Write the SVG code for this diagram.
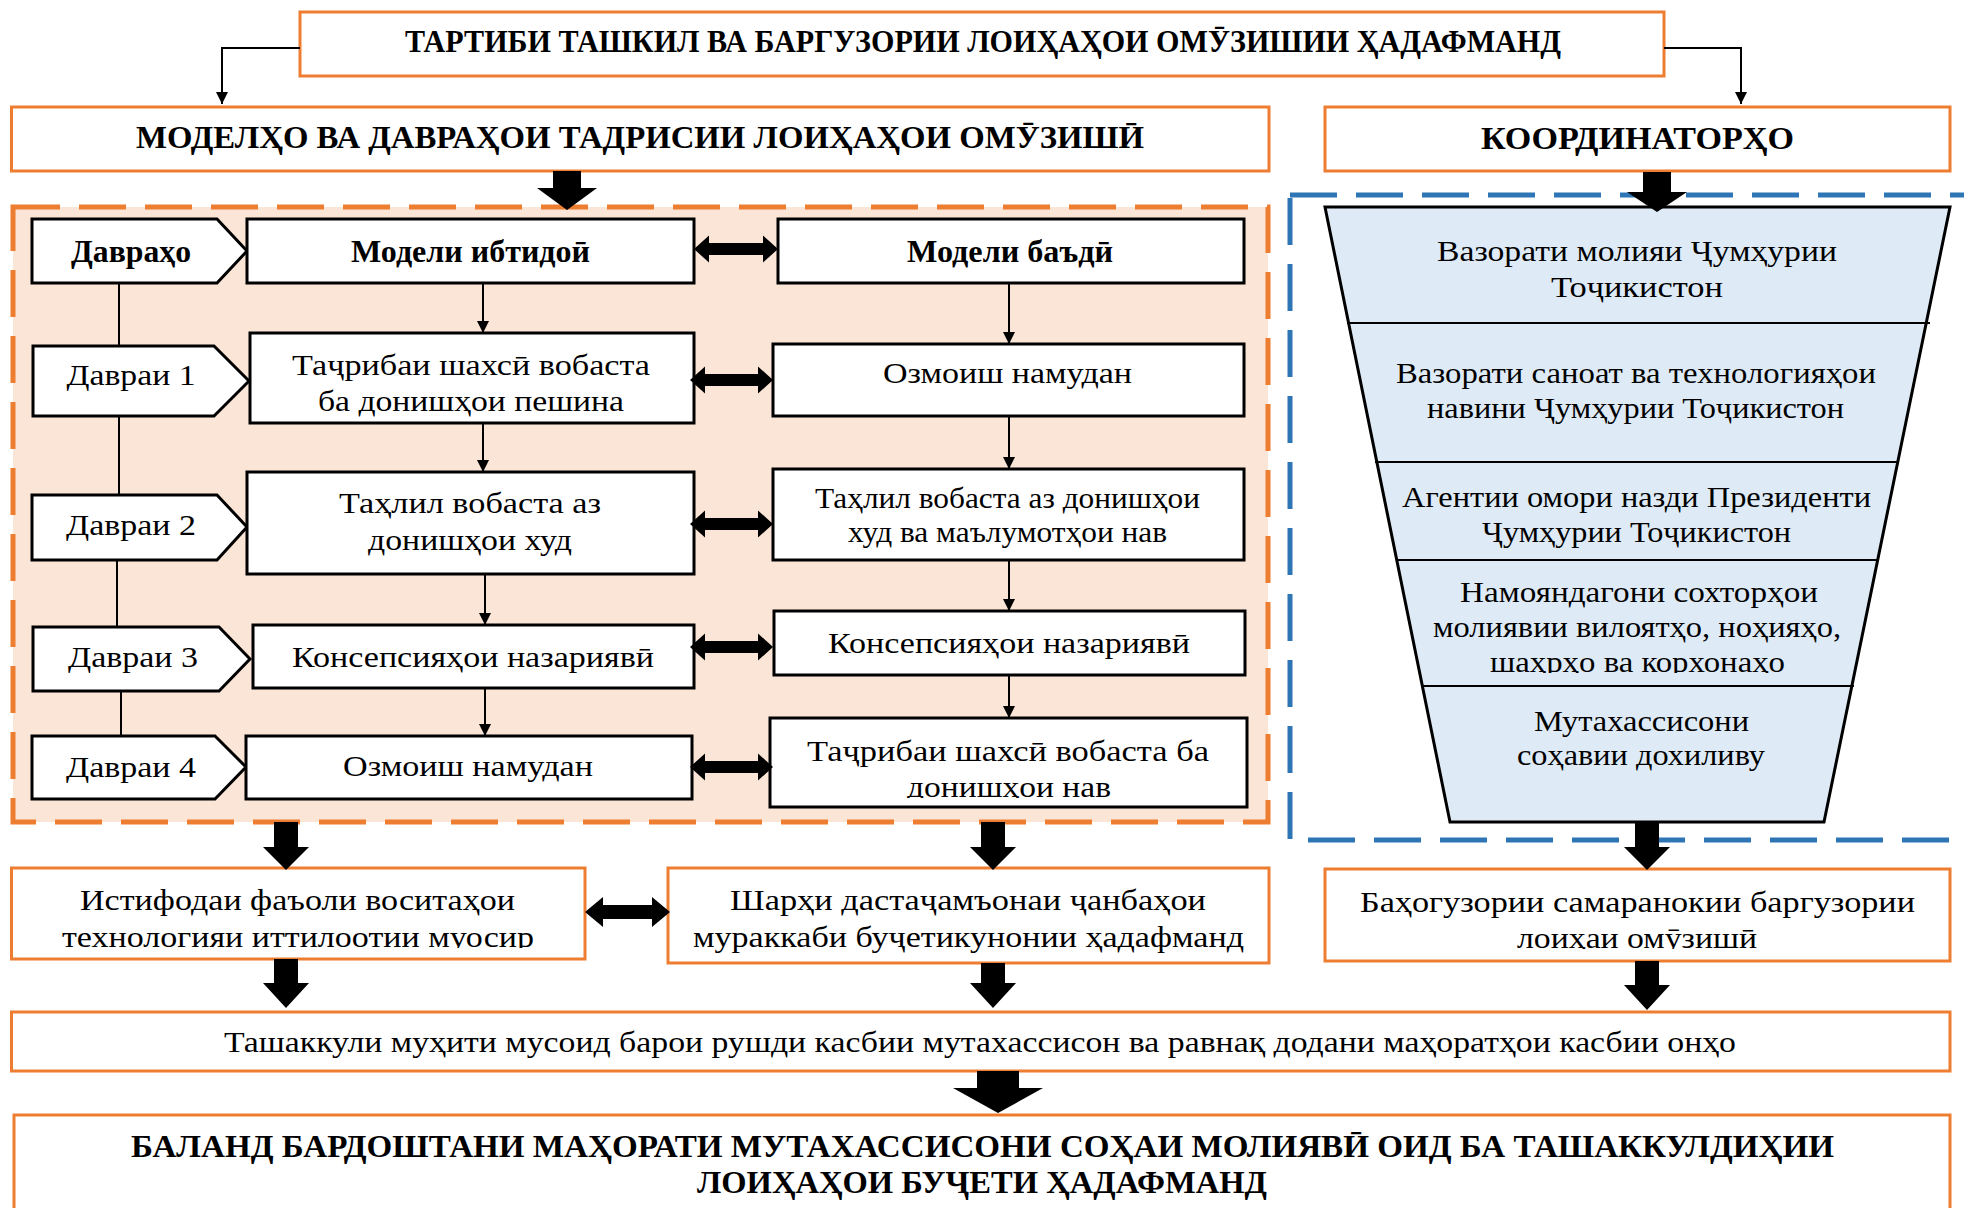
<svg xmlns="http://www.w3.org/2000/svg" width="1964" height="1208" viewBox="0 0 1964 1208">
<style>
.ob{fill:#fff;stroke:#ED7D31;stroke-width:3}
.bb{fill:#fff;stroke:#000;stroke-width:3}
.t{font-family:"Liberation Serif","Times New Roman","DejaVu Serif",serif;font-size:30px;fill:#000;text-anchor:middle}
.b{font-weight:bold;font-size:31px}
.ln{stroke:#000;stroke-width:2;fill:none}
.fat{fill:#000;stroke:none}
</style>
<defs>
<marker id="ah" viewBox="0 0 10 10" refX="10" refY="5" markerWidth="15" markerHeight="12" markerUnits="userSpaceOnUse" orient="auto"><path d="M0,0 L10,5 L0,10 Z" fill="#000"/></marker>
<clipPath id="cIst"><rect x="11" y="866" width="576" height="82"/></clipPath>
<clipPath id="cBah"><rect x="1325" y="866" width="627" height="83"/></clipPath>
<clipPath id="cNam"><rect x="1380" y="562" width="540" height="111"/></clipPath>
<clipPath id="cTaj"><rect x="770" y="718" width="477" height="80"/></clipPath>
</defs>

<g id="region-models">
<rect x="13" y="207" width="1255" height="615" fill="#FBE5D6" stroke="#ED7D31" stroke-width="5" stroke-dasharray="47 19"/>
</g>
<g id="region-coordinators">
<rect x="1290" y="195" width="700" height="645" fill="none" stroke="#2E75B6" stroke-width="5" stroke-dasharray="47 19"/>
</g>

<g id="title">
<rect class="ob" x="300" y="12" width="1364" height="64"/>
<text class="t b" x="983" y="52" textLength="1156" lengthAdjust="spacingAndGlyphs">ТАРТИБИ ТАШКИЛ ВА БАРГУЗОРИИ ЛОИҲАҲОИ ОМӮЗИШИИ ҲАДАФМАНД</text>
</g>
<g id="models">
<rect class="ob" x="11.5" y="107" width="1257.5" height="64"/>
<text class="t b" x="640" y="148" textLength="1008" lengthAdjust="spacingAndGlyphs">МОДЕЛҲО ВА ДАВРАҲОИ ТАДРИСИИ ЛОИҲАҲОИ ОМӮЗИШӢ</text>
</g>
<g id="coordinators">
<rect class="ob" x="1325" y="107" width="625" height="64"/>
<text class="t b" x="1637.5" y="149" textLength="313" lengthAdjust="spacingAndGlyphs">КООРДИНАТОРҲО</text>
</g>

<g id="stages">
<polygon class="bb" points="32,219 217,219 247,251 217,283 32,283"/>
<text class="t b" x="131" y="262" textLength="120" lengthAdjust="spacingAndGlyphs">Давраҳо</text>
</g>
<g id="stage1">
<polygon class="bb" points="33,346 214,346 249,381 214,416 33,416"/>
<text class="t" x="131" y="385" textLength="129" lengthAdjust="spacingAndGlyphs">Давраи 1</text>
</g>
<g id="stage2">
<polygon class="bb" points="32,495 217,495 247,527 217,560 32,560"/>
<text class="t" x="131" y="535" textLength="130" lengthAdjust="spacingAndGlyphs">Давраи 2</text>
</g>
<g id="stage3">
<polygon class="bb" points="33,627 219,627 250,659 219,691 33,691"/>
<text class="t" x="133" y="667" textLength="130" lengthAdjust="spacingAndGlyphs">Давраи 3</text>
</g>
<g id="stage4">
<polygon class="bb" points="32,736 215,736 246,767 215,799 32,799"/>
<text class="t" x="131" y="777" textLength="130" lengthAdjust="spacingAndGlyphs">Давраи 4</text>
</g>

<g id="initial-head">
<rect class="bb" x="247" y="219" width="447" height="64"/>
<text class="t b" x="470.5" y="262" textLength="239" lengthAdjust="spacingAndGlyphs">Модели ибтидоӣ</text>
</g>
<g id="initial-1">
<rect class="bb" x="250" y="333" width="444" height="90"/>
<text class="t" x="471" y="375" textLength="358" lengthAdjust="spacingAndGlyphs">Таҷрибаи шахсӣ вобаста</text>
<text class="t" x="471" y="411" textLength="306" lengthAdjust="spacingAndGlyphs">ба донишҳои пешина</text>
</g>
<g id="initial-2">
<rect class="bb" x="247" y="472" width="447" height="102"/>
<text class="t" x="470" y="513" textLength="262" lengthAdjust="spacingAndGlyphs">Таҳлил вобаста аз</text>
<text class="t" x="470" y="550" textLength="204" lengthAdjust="spacingAndGlyphs">донишҳои худ</text>
</g>
<g id="initial-3">
<rect class="bb" x="253" y="625" width="441" height="63"/>
<text class="t" x="473" y="667" textLength="362" lengthAdjust="spacingAndGlyphs">Консепсияҳои назариявӣ</text>
</g>
<g id="initial-4">
<rect class="bb" x="246" y="736" width="446" height="63"/>
<text class="t" x="468" y="776" textLength="250" lengthAdjust="spacingAndGlyphs">Озмоиш намудан</text>
</g>

<g id="later-head">
<rect class="bb" x="778" y="219" width="466" height="64"/>
<text class="t b" x="1010" y="262" textLength="206" lengthAdjust="spacingAndGlyphs">Модели баъдӣ</text>
</g>
<g id="later-1">
<rect class="bb" x="773" y="344" width="471" height="72"/>
<text class="t" x="1007.5" y="383" textLength="249" lengthAdjust="spacingAndGlyphs">Озмоиш намудан</text>
</g>
<g id="later-2">
<rect class="bb" x="773" y="469" width="471" height="91"/>
<text class="t" x="1007.5" y="508" textLength="385" lengthAdjust="spacingAndGlyphs">Таҳлил вобаста аз донишҳои</text>
<text class="t" x="1007.5" y="542" textLength="319" lengthAdjust="spacingAndGlyphs">худ ва маълумотҳои нав</text>
</g>
<g id="later-3">
<rect class="bb" x="774" y="611" width="471" height="64"/>
<text class="t" x="1009" y="653" textLength="362" lengthAdjust="spacingAndGlyphs">Консепсияҳои назариявӣ</text>
</g>
<g id="later-4">
<rect class="bb" x="770" y="718" width="477" height="89"/>
<text class="t" x="1008" y="761" textLength="402" lengthAdjust="spacingAndGlyphs">Таҷрибаи шахсӣ вобаста ба</text>
<text class="t" x="1009" y="797" clip-path="url(#cTaj)" textLength="204" lengthAdjust="spacingAndGlyphs">донишҳои нав</text>
</g>

<g id="funnel">
<polygon points="1325,207 1950,207 1824,822 1450,822" fill="#DEEBF7" stroke="#000" stroke-width="3"/>
<line class="ln" x1="1347" y1="323" x2="1930" y2="323" stroke-width="3"/>
<line class="ln" x1="1375" y1="462" x2="1898" y2="462" stroke-width="3"/>
<line class="ln" x1="1397" y1="560" x2="1879" y2="560" stroke-width="3"/>
<line class="ln" x1="1423" y1="686" x2="1854" y2="686" stroke-width="3"/>
</g>
<g id="coord-1">
<text class="t" x="1637" y="261" textLength="400" lengthAdjust="spacingAndGlyphs">Вазорати молияи Ҷумҳурии</text>
<text class="t" x="1637" y="297" textLength="172" lengthAdjust="spacingAndGlyphs">Тоҷикистон</text>
</g>
<g id="coord-2">
<text class="t" x="1636" y="383" textLength="480" lengthAdjust="spacingAndGlyphs">Вазорати саноат ва технологияҳои</text>
<text class="t" x="1635.5" y="418" textLength="417" lengthAdjust="spacingAndGlyphs">навини Ҷумҳурии Тоҷикистон</text>
</g>
<g id="coord-3">
<text class="t" x="1636.5" y="507" textLength="469" lengthAdjust="spacingAndGlyphs">Агентии омори назди Президенти</text>
<text class="t" x="1636.5" y="542" textLength="309" lengthAdjust="spacingAndGlyphs">Ҷумҳурии Тоҷикистон</text>
</g>
<g id="coord-4">
<text class="t" x="1639" y="602" textLength="358" lengthAdjust="spacingAndGlyphs">Намояндагони сохторҳои</text>
<text class="t" x="1637" y="637" textLength="408" lengthAdjust="spacingAndGlyphs">молиявии вилоятҳо, ноҳияҳо,</text>
<text class="t" x="1637.5" y="672" clip-path="url(#cNam)" textLength="295" lengthAdjust="spacingAndGlyphs">шаҳрҳо ва корхонаҳо</text>
</g>
<g id="coord-5">
<text class="t" x="1641.5" y="731" textLength="215" lengthAdjust="spacingAndGlyphs">Мутахассисони</text>
<text class="t" x="1641" y="765" textLength="248" lengthAdjust="spacingAndGlyphs">соҳавии дохиливу</text>
</g>

<g id="ict">
<rect class="ob" x="11.5" y="868" width="573.5" height="91"/>
<text class="t" x="297.5" y="910" textLength="435" lengthAdjust="spacingAndGlyphs">Истифодаи фаъоли воситаҳои</text>
<text class="t" x="298" y="947" clip-path="url(#cIst)" textLength="472" lengthAdjust="spacingAndGlyphs">технологияи иттилоотии муосир</text>
</g>
<g id="review">
<rect class="ob" x="668" y="868" width="601" height="95"/>
<text class="t" x="968" y="910" textLength="476" lengthAdjust="spacingAndGlyphs">Шарҳи дастаҷамъонаи ҷанбаҳои</text>
<text class="t" x="968.5" y="947" textLength="551" lengthAdjust="spacingAndGlyphs">мураккаби буҷетикунонии ҳадафманд</text>
</g>
<g id="evaluation">
<rect class="ob" x="1325" y="869" width="625" height="92"/>
<text class="t" x="1637.5" y="912" textLength="555" lengthAdjust="spacingAndGlyphs">Баҳогузории самаранокии баргузории</text>
<text class="t" x="1637" y="948" clip-path="url(#cBah)" textLength="240" lengthAdjust="spacingAndGlyphs">лоиҳаи омӯзишӣ</text>
</g>
<g id="environment">
<rect class="ob" x="11.5" y="1012" width="1938.5" height="59"/>
<text class="t" x="980" y="1052" textLength="1512" lengthAdjust="spacingAndGlyphs">Ташаккули муҳити мусоид барои рушди касбии мутахассисон ва равнақ додани маҳоратҳои касбии онҳо</text>
</g>
<g id="result">
<rect class="ob" x="14" y="1115" width="1936" height="120"/>
<text class="t b" x="982.5" y="1157" textLength="1703" lengthAdjust="spacingAndGlyphs">БАЛАНД БАРДОШТАНИ МАҲОРАТИ МУТАХАССИСОНИ СОҲАИ МОЛИЯВӢ ОИД БА ТАШАККУЛДИҲИИ</text>
<text class="t b" x="982" y="1193" textLength="570" lengthAdjust="spacingAndGlyphs">ЛОИҲАҲОИ БУҶЕТИ ҲАДАФМАНД</text>
</g>

<g id="connectors">
<path class="ln" stroke-width="2.5" d="M300,48 H222 V104" marker-end="url(#ah)"/>
<path class="ln" stroke-width="2.5" d="M1664,48 H1741 V104" marker-end="url(#ah)"/>
<line class="ln" x1="119" y1="283" x2="119" y2="346"/>
<line class="ln" x1="119" y1="416" x2="119" y2="495"/>
<line class="ln" x1="117" y1="560" x2="117" y2="627"/>
<line class="ln" x1="121" y1="691" x2="121" y2="736"/>
<line class="ln" x1="483" y1="283" x2="483" y2="333" marker-end="url(#ah)"/>
<line class="ln" x1="483" y1="423" x2="483" y2="472" marker-end="url(#ah)"/>
<line class="ln" x1="485" y1="574" x2="485" y2="625" marker-end="url(#ah)"/>
<line class="ln" x1="485" y1="688" x2="485" y2="736" marker-end="url(#ah)"/>
<line class="ln" x1="1009" y1="283" x2="1009" y2="344" marker-end="url(#ah)"/>
<line class="ln" x1="1009" y1="416" x2="1009" y2="469" marker-end="url(#ah)"/>
<line class="ln" x1="1009" y1="560" x2="1009" y2="611" marker-end="url(#ah)"/>
<line class="ln" x1="1009" y1="675" x2="1009" y2="718" marker-end="url(#ah)"/>
<path class="fat" d="M694,249 L709,235.5 L709,243 L763,243 L763,235.5 L778,249 L763,262.5 L763,255 L709,255 L709,262.5 Z"/>
<path class="fat" d="M690,380 L705,366.5 L705,374 L758,374 L758,366.5 L773,380 L758,393.5 L758,386 L705,386 L705,393.5 Z"/>
<path class="fat" d="M690,524 L705,510.5 L705,518 L758,518 L758,510.5 L773,524 L758,537.5 L758,530 L705,530 L705,537.5 Z"/>
<path class="fat" d="M690,647 L705,633.5 L705,641 L758,641 L758,633.5 L773,647 L758,660.5 L758,653 L705,653 L705,660.5 Z"/>
<path class="fat" d="M690,767 L705,753.5 L705,761 L758,761 L758,753.5 L773,767 L758,780.5 L758,773 L705,773 L705,780.5 Z"/>
<path class="fat" d="M585,912 L603,897 L603,905 L652,905 L652,897 L670,912 L652,927 L652,919 L603,919 L603,927 Z"/>
<path class="fat" d="M553,171 H581 V188 H597 L567,210 L537,188 H553 Z"/>
<path class="fat" d="M1643,172 H1671 V192 H1687 L1657,212 L1627,192 H1643 Z"/>
<path class="fat" d="M274,822 H298 V847 H309 L286,870 L263,847 H274 Z"/>
<path class="fat" d="M981,822 H1005 V847 H1016 L993,870 L970,847 H981 Z"/>
<path class="fat" d="M1635,822 H1659 V847 H1670 L1647,870 L1624,847 H1635 Z"/>
<path class="fat" d="M274,959 H298 V983 H309 L286,1008 L263,983 H274 Z"/>
<path class="fat" d="M981,963 H1005 V983 H1016 L993,1008 L970,983 H981 Z"/>
<path class="fat" d="M1635,961 H1659 V985 H1670 L1647,1010 L1624,985 H1635 Z"/>
<path class="fat" d="M977,1071 H1019 V1088 H1043 L998,1113 L953,1088 H977 Z"/>
</g>
</svg>
